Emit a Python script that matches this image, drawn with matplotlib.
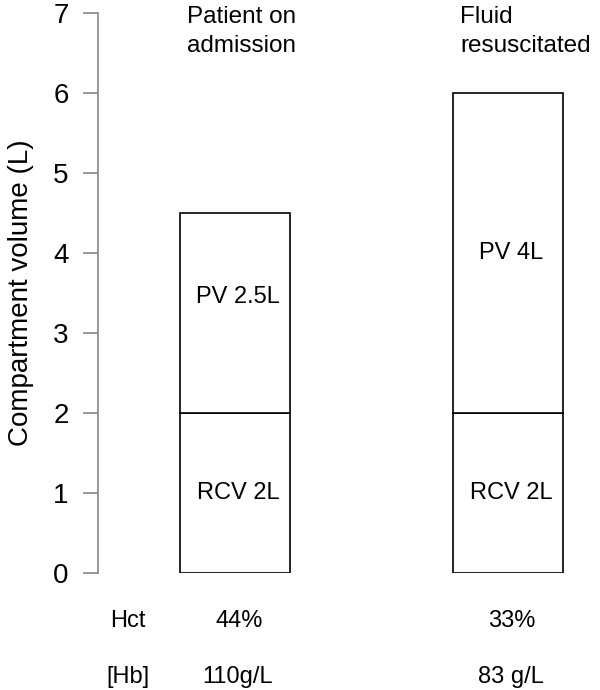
import matplotlib.pyplot as plt

plt.rcParams['font.family'] = ['Liberation Sans', 'DejaVu Sans']

# data
groups = ['Patient on\nadmission', 'Fluid\nresuscitated']
rcv = [2, 2]
pv = [2.5, 4]
rcv_labels = ['RCV 2L', 'RCV 2L']
pv_labels = ['PV 2.5L', 'PV 4L']
hct = ['44%', '33%']
hb = ['110g/L', '83 g/L']

xpos = [1.37, 4.10]
width = 1.1
pv_label_shift = [0.2, 0.0]  # nudge of the PV text inside the bar

fig = plt.figure(figsize=(6, 6.9), dpi=100)
ax = fig.add_axes([98 / 600, 117 / 690, 500 / 600, 560 / 690])

ax.bar(xpos, rcv, width=width, color='white', edgecolor='black', linewidth=1.2)
ax.bar(xpos, pv, bottom=rcv, width=width, color='white', edgecolor='black', linewidth=1.2)

fs = 17
for i, x in enumerate(xpos):
    ax.text(x + 0.03, rcv[i] / 2, rcv_labels[i], ha='center', va='center', fontsize=fs)
    ax.text(x + 0.03, rcv[i] + pv[i] / 2 + pv_label_shift[i], pv_labels[i],
            ha='center', va='center', fontsize=fs)
    ax.text(x - width / 2 + 0.07, 7.09, groups[i], ha='left', va='top', fontsize=17.5,
            linespacing=1.4)
    ax.text(x + 0.04, -0.6, hct[i], ha='center', va='center', fontsize=fs, clip_on=False)
    ax.text(x + 0.03, -1.3, hb[i], ha='center', va='center', fontsize=fs, clip_on=False)

ax.text(0.30, -0.6, 'Hct', ha='center', va='center', fontsize=fs, clip_on=False)
ax.text(0.30, -1.3, '[Hb]', ha='center', va='center', fontsize=fs, clip_on=False)

ax.set_xlim(0, 5)
ax.set_ylim(0, 7)
ax.set_yticks(range(0, 8))
ax.tick_params(axis='y', labelsize=20, length=11, color='#888888', width=1.2, pad=10)
ax.set_xticks([])
for s in ['top', 'right', 'bottom']:
    ax.spines[s].set_visible(False)
ax.spines['left'].set_color('#888888')
ax.spines['left'].set_linewidth(1.2)
ax.set_ylabel('Compartment volume (L)', fontsize=20, labelpad=14)

plt.savefig('out.png', dpi=100)
